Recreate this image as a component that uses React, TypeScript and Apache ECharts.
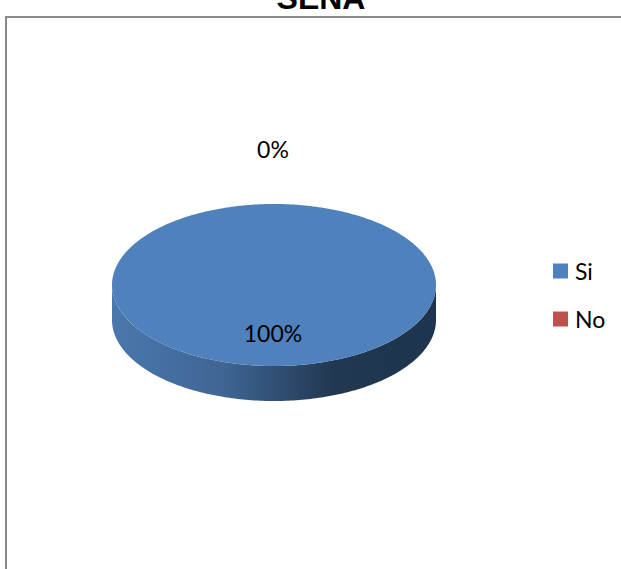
import React, { useEffect, useRef } from "react";
import * as echarts from "echarts";

const titleText = "SENA";
const categories = ["Si", "No"];
const values = [100, 0];
const colors = ["#4f81bd", "#c0504d"];

const WIDTH = 621;
const HEIGHT = 569;
const CX = 274;
const CY = 285;
const RX = 162;
const RY = 81;
const DEPTH = 35;
const FONT = "Lato, 'Noto Sans', sans-serif";
const LABEL_FACTORS = [0.59, 1.68];

const total = values.reduce((a, b) => a + b, 0);

function arcPoints(from: number, to: number, dy: number) {
  const steps = Math.max(2, Math.ceil(Math.abs(to - from) / (Math.PI / 180)));
  const pts: string[] = [];
  for (let i = 0; i <= steps; i++) {
    const t = from + ((to - from) * i) / steps;
    pts.push(`${(CX + RX * Math.cos(t)).toFixed(2)} ${(CY + dy + RY * Math.sin(t)).toFixed(2)}`);
  }
  return pts;
}

function sliceRange(index: number) {
  const before = values.slice(0, index).reduce((a, b) => a + b, 0);
  const start = -Math.PI / 2 + (before / total) * Math.PI * 2;
  const end = start + (values[index] / total) * Math.PI * 2;
  return [start, end];
}

function makeRenderItem(index: number) {
  return (_params: any, api: any) => {
    const value = api.value(0) as number;
    const [start, end] = sliceRange(index);
    const mid = (start + end) / 2;
    const share = Math.round((value / total) * 100);
    const f = LABEL_FACTORS[index];
    const children: any[] = [];
    if (value > 0) {
      const sideFrom = Math.max(start, 0);
      const sideTo = Math.min(end, Math.PI);
      if (sideTo > sideFrom) {
        const front = arcPoints(sideFrom, sideTo, 0);
        const back = arcPoints(sideTo, sideFrom, DEPTH);
        children.push({
          type: "path",
          shape: {
            pathData: `M${front.join("L")}L${back.join("L")}Z`,
            layout: "center",
            x: CX - RX,
            y: CY,
            width: RX * 2,
            height: RY + DEPTH,
          },
          style: {
            fill: new echarts.graphic.LinearGradient(0, 0, 1, 0, [
              { offset: 0, color: "#4a77ad" },
              { offset: 0.35, color: "#3e6593" },
              { offset: 0.68, color: "#213850" },
              { offset: 1, color: "#1e344f" },
            ]),
          },
        });
      }
      const full = value === total;
      const top = arcPoints(start, end, 0);
      const d = full
        ? `M${top.join("L")}Z`
        : `M${CX} ${CY}L${top.join("L")}Z`;
      children.push({
        type: "path",
        shape: {
          pathData: d,
          layout: "center",
          x: CX - RX,
          y: CY - RY,
          width: RX * 2,
          height: RY * 2,
        },
        style: { fill: colors[index] },
      });
    }
    children.push({
      type: "text",
      z2: 10,
      style: {
        text: `${share}%`,
        x: CX - 1,
        y: CY + RY * f * Math.sin(mid),
        align: "center",
        verticalAlign: "middle",
        font: `23px ${FONT}`,
        fill: "#000000",
      },
    });
    return { type: "group", children };
  };
}

export default function App() {
  const ref = useRef<HTMLDivElement>(null);
  useEffect(() => {
    const chart = echarts.init(ref.current!, undefined, { renderer: "svg" });
    chart.setOption({
      animation: false,
      backgroundColor: "#ffffff",
      title: {
        text: titleText,
        left: 316,
        top: -23,
        textAlign: "center",
        textStyle: {
          fontFamily: "'Liberation Sans', Arial, sans-serif",
          fontWeight: "bold",
          fontSize: 32,
          color: "#000000",
        },
      },
      legend: {
        orient: "vertical",
        left: 553,
        top: 259.5,
        itemWidth: 15,
        itemHeight: 15,
        itemGap: 25,
        padding: 0,
        icon: "rect",
        data: categories,
        selectedMode: false,
        textStyle: { fontFamily: FONT, fontSize: 23, color: "#000000", padding: [0, 0, 5, 2] },
      },
      graphic: [
        {
          type: "polyline",
          shape: { points: [[6, HEIGHT + 4], [6, 17], [WIDTH + 4, 17]] },
          style: { fill: "none", stroke: "#8a8a8a", lineWidth: 2 },
          silent: true,
        },
      ],
      series: categories.map((name, i) => ({
        type: "custom",
        name,
        coordinateSystem: "none",
        silent: true,
        itemStyle: { color: colors[i] },
        data: [values[i]],
        renderItem: makeRenderItem(i),
      })),
    });
    return () => chart.dispose();
  }, []);
  return (
    <div
      ref={ref}
      style={{ position: "absolute", left: 0, top: 0, width: WIDTH, height: HEIGHT }}
    />
  );
}
